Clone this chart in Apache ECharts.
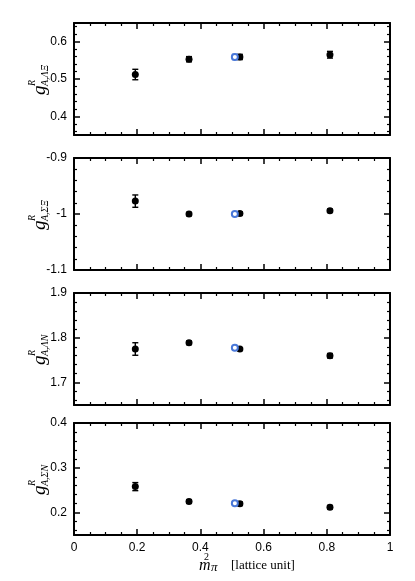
<!DOCTYPE html>
<html><head><meta charset="utf-8">
<script src="https://cdn.jsdelivr.net/npm/echarts@6/dist/echarts.min.js"></script>
<style>html,body{margin:0;padding:0;background:#fff}#c{width:415px;height:581px}</style>
</head><body><div id="c"></div>
<script>
// ---- data ----
const xBlack = [0.194, 0.364, 0.525, 0.81];
const xBlue = [0.509];
const subLabels = ['A,ΛΞ', 'A,ΣΞ', 'A,ΛN', 'A,ΣN'];
const yBlack1 = [0.512, 0.553, 0.559, 0.565];
const eBlack1 = [0.014, 0.007, 0.007, 0.009];
const yBlack2 = [-0.977, -1.0, -0.999, -0.994];
const eBlack2 = [0.011, 0.003, 0.003, 0.003];
const yBlack3 = [1.775, 1.789, 1.775, 1.760];
const eBlack3 = [0.014, 0.004, 0.003, 0.005];
const yBlack4 = [0.258, 0.225, 0.220, 0.212];
const eBlack4 = [0.009, 0.004, 0.004, 0.004];
const yBlue = [0.559, -1.0, 1.778, 0.221];
const eBlue = [0.007, 0.002, 0.002, 0.002];
const yMin = [0.35, -1.1, 1.65, 0.15];
const yMax = [0.65, -0.9, 1.9, 0.4];
const yTickLabels = [[0.4, 0.5, 0.6], [-1.1, -1.0, -0.9], [1.7, 1.8, 1.9], [0.2, 0.3, 0.4]];
const xTickLabels = [0, 0.2, 0.4, 0.6, 0.8, 1];

const yBlackAll = [yBlack1, yBlack2, yBlack3, yBlack4];
const eBlackAll = [eBlack1, eBlack2, eBlack3, eBlack4];

// ---- layout ----
const tops = [23, 158, 293, 423];
const H = 112;
const BLUE = '#4a78d8';
const FONT = 'Liberation Sans';

function minors(lo, hi, majors) {
  const out = [];
  const step = 0.02;
  let v = Math.ceil(lo / step - 1e-9) * step;
  for (; v <= hi + 1e-9; v += step) {
    const r = Math.round(v * 1000) / 1000;
    if (!majors.some(m => Math.abs(m - r) < 1e-6)) out.push(r);
  }
  return out;
}

const grids = [], xAxes = [], yAxes = [], series = [], graphics = [];

function errBar(color) {
  return function (params, api) {
    const x = api.value(0), y = api.value(1), e = api.value(2);
    const t = api.coord([x, y + e]), b = api.coord([x, y - e]);
    const w = 3;
    const st = { stroke: color, lineWidth: 1.4 };
    return { type: 'group', children: [
      { type: 'line', shape: { x1: t[0], y1: t[1], x2: b[0], y2: b[1] }, style: st },
      { type: 'line', shape: { x1: t[0] - w, y1: t[1], x2: t[0] + w, y2: t[1] }, style: st },
      { type: 'line', shape: { x1: b[0] - w, y1: b[1], x2: b[0] + w, y2: b[1] }, style: st }
    ] };
  };
}

for (let i = 0; i < 4; i++) {
  grids.push({ left: 74, right: 25, top: tops[i], height: H });
  const xBase = {
    gridIndex: i, type: 'value', min: 0, max: 1, interval: 0.2,
    axisLine: { show: true, onZero: false, lineStyle: { color: '#000', width: 2 } },
    axisTick: { show: true, inside: true, length: 6, lineStyle: { color: '#000', width: 1.5 } },
    minorTick: { show: true, splitNumber: 4, length: 3, lineStyle: { color: '#000', width: 1.2 } },
    splitLine: { show: false }, minorSplitLine: { show: false }
  };
  xAxes.push(Object.assign({}, xBase, {
    position: 'bottom',
    axisLabel: { show: i === 3, color: '#000', fontSize: 12, fontFamily: FONT, margin: 7,
      customValues: xTickLabels }
  }));
  xAxes.push(Object.assign({}, xBase, { position: 'top', axisLabel: { show: false } }));

  const majors = yTickLabels[i];
  const mins = minors(yMin[i], yMax[i], majors);
  const yBase = {
    gridIndex: i, type: 'value', min: yMin[i], max: yMax[i],
    splitLine: { show: false }
  };
  yAxes.push(Object.assign({}, yBase, {
    position: 'left',
    axisLine: { show: true, onZero: false, lineStyle: { color: '#000', width: 2 } },
    axisTick: { show: true, inside: true, length: 6, customValues: majors, lineStyle: { color: '#000', width: 1.5 } },
    axisLabel: { show: true, customValues: majors, color: '#000', fontSize: 12, fontFamily: FONT, margin: 7,
      formatter: v => String(Math.round(v * 100) / 100) }
  }));
  yAxes.push(Object.assign({}, yBase, {
    position: 'left',
    axisLine: { show: false, onZero: false },
    axisTick: { show: true, inside: true, length: 3, customValues: mins, lineStyle: { color: '#000', width: 1.2 } },
    axisLabel: { show: false }
  }));
  yAxes.push(Object.assign({}, yBase, {
    position: 'right',
    axisLine: { show: true, onZero: false, lineStyle: { color: '#000', width: 2 } },
    axisTick: { show: true, inside: true, length: 6, customValues: majors, lineStyle: { color: '#000', width: 1.5 } },
    axisLabel: { show: false }
  }));
  yAxes.push(Object.assign({}, yBase, {
    position: 'right',
    axisLine: { show: false, onZero: false },
    axisTick: { show: true, inside: true, length: 3, customValues: mins, lineStyle: { color: '#000', width: 1.2 } },
    axisLabel: { show: false }
  }));

  const xi = i * 2, yi = i * 4;
  const blackData = xBlack.map((x, k) => [x, yBlackAll[i][k], eBlackAll[i][k]]);
  const blueData = xBlue.map(x => [x, yBlue[i], eBlue[i]]);
  series.push({ type: 'custom', xAxisIndex: xi, yAxisIndex: yi, data: blackData, renderItem: errBar('#000'), z: 2 });
  series.push({ type: 'custom', xAxisIndex: xi, yAxisIndex: yi, data: blueData, renderItem: errBar(BLUE), z: 2 });
  series.push({ type: 'scatter', xAxisIndex: xi, yAxisIndex: yi, data: blackData, symbol: 'circle', symbolSize: 7,
    itemStyle: { color: '#000', opacity: 1 }, z: 3, silent: true });
  series.push({ type: 'scatter', xAxisIndex: xi, yAxisIndex: yi, data: blueData, symbol: 'emptyCircle', symbolSize: 6,
    itemStyle: { color: BLUE, borderColor: BLUE, borderWidth: 1, opacity: 1 }, z: 3, silent: true });

  const cy = tops[i] + H / 2;
  graphics.push({
    type: 'group', x: 40, y: cy, rotation: Math.PI / 2,
    children: [
      { type: 'text', x: -16, y: 0, style: { text: 'g', font: 'italic 19px "Liberation Serif"', fill: '#000', verticalAlign: 'middle', align: 'left' } },
      { type: 'text', x: -7, y: -8, style: { text: 'R', font: 'italic 10px "Liberation Serif"', fill: '#000', verticalAlign: 'middle', align: 'left' } },
      { type: 'text', x: -7, y: 5, style: { text: subLabels[i], font: 'italic 10px "Liberation Serif"', fill: '#000', verticalAlign: 'middle', align: 'left' } }
    ]
  });
}

graphics.push({
  type: 'group', x: 199, y: 566,
  children: [
    { type: 'text', x: 0, y: 0, style: { text: 'm', font: 'italic 16px "Liberation Serif"', fill: '#000', verticalAlign: 'middle' } },
    { type: 'text', x: 5, y: -9, style: { text: '2', font: '10px "Liberation Serif"', fill: '#000', verticalAlign: 'middle' } },
    { type: 'text', x: 12, y: 2, style: { text: 'π', font: 'italic 13px "Liberation Serif"', fill: '#000', verticalAlign: 'middle' } },
    { type: 'text', x: 32, y: 0, style: { text: '[lattice unit]', font: '13px "Liberation Serif"', fill: '#000', verticalAlign: 'middle' } }
  ]
});

const chart = echarts.init(document.getElementById('c'), null, { renderer: 'canvas' });
chart.setOption({
  animation: false,
  backgroundColor: '#fff',
  grid: grids, xAxis: xAxes, yAxis: yAxes, series: series, graphic: graphics
});
</script></body></html>
